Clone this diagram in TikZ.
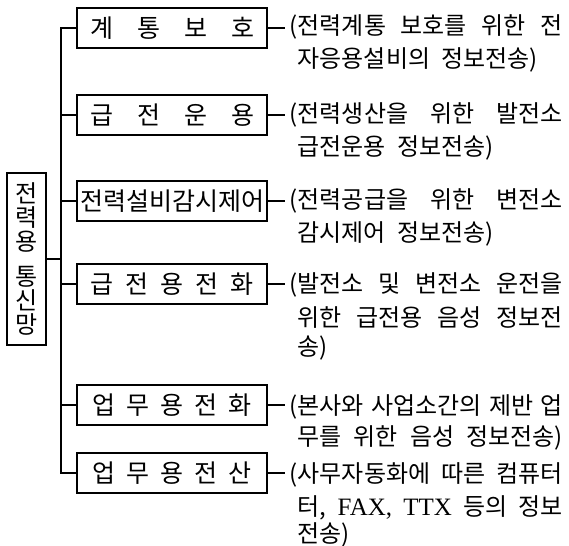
\documentclass[tikz,border=0pt]{standalone}
\usepackage{fontspec}
\setmainfont{Noto Sans CJK KR}
\newfontfamily\latinserif{Liberation Serif}
\newlength{\mywordsp}
\setlength{\mywordsp}{11pt plus 40pt minus 4pt}
\newcommand{\dspace}{\spaceskip=\mywordsp\relax}
\newcommand{\fl}[1]{\makebox[273pt][s]{\dspace #1}}
\newcommand{\cl}[1]{\makebox[265pt][s]{\dspace #1}}
\newcommand{\nl}[1]{\dspace #1}
\begin{document}
\begin{tikzpicture}[x=1pt,y=-1pt,
  line width=1.4pt,
  catbox/.style={draw, minimum width=190pt, minimum height=40pt, inner sep=0pt,
    font=\fontsize{25}{28}\selectfont},
  rootbox/.style={draw, minimum width=39pt, minimum height=172pt, inner sep=0pt,
    align=center, font=\fontsize{24}{24}\selectfont},
  desc/.style={anchor=west, inner sep=0pt, font=\fontsize{24}{26}\selectfont},
  stub/.style={shorten >=4pt}]
\useasboundingbox (0,0) rectangle (569,545);

\node[rootbox] (root) at (26.5,259) {전\\력\\용\\[11pt]통\\신\\망};

\node[catbox] (b1) at (172,28) {계\hspace{24pt}통\hspace{24pt}보\hspace{24pt}호};
\node[catbox] (b2) at (172,115) {급\hspace{24pt}전\hspace{24pt}운\hspace{24pt}용};
\node[catbox] (b3) at (172,201) {전력설비감시제어};
\node[catbox] (b4) at (172,284) {급\hspace{12pt}전\hspace{12pt}용\hspace{12pt}전\hspace{12pt}화};
\node[catbox] (b5) at (172,405) {업\hspace{11pt}무\hspace{11pt}용\hspace{11pt}전\hspace{11pt}화};
\node[catbox] (b6) at (172,473) {업\hspace{11pt}무\hspace{11pt}용\hspace{11pt}전\hspace{11pt}산};

\coordinate (tr) at (61,0);
\draw (b1.west) -- (b1.west -| tr) -- (b6.west -| tr) -- (b6.west);
\draw (b2.west) -- (b2.west -| tr);
\draw (b3.west) -- (b3.west -| tr);
\draw (b4.west) -- (b4.west -| tr);
\draw (b5.west) -- (b5.west -| tr);
\draw (root.east) -- (root.east -| tr);

\node[desc] (d1a) at (289,27) {\fl{(전력계통 보호를 위한 전}};
\node[desc] (d1b) at (297,60) {\nl{자응용설비의 정보전송)}};
\node[desc] (d2a) at (289,115) {\fl{(전력생산을 위한 발전소}};
\node[desc] (d2b) at (297,148) {\nl{급전운용 정보전송)}};
\node[desc] (d3a) at (289,201) {\fl{(전력공급을 위한 변전소}};
\node[desc] (d3b) at (297,234) {\nl{감시제어 정보전송)}};
\node[desc] (d4a) at (289,285) {\fl{(발전소 및 변전소 운전을}};
\node[desc] (d4b) at (297,318) {\cl{위한 급전용 음성 정보전}};
\node[desc] (d4c) at (297,348) {송)};
\node[desc] (d5a) at (289,407) {\fl{(본사와 사업소간의 제반 업}};
\node[desc] (d5b) at (297,438) {\cl{무를 위한 음성 정보전송)}};
\node[desc] (d6a) at (289,475) {\fl{(사무자동화에 따른 컴퓨터}};
\node[desc] (d6b) at (297,508) {\cl{터, {\latinserif\fontsize{25}{26}\selectfont FAX, TTX} 등의 정보}};
\node[desc] (d6c) at (297,535) {전송)};

\draw[stub] (b1.east) -- (b1.east -| d1a.west);
\draw[stub] (b2.east) -- (b2.east -| d2a.west);
\draw[stub] (b3.east) -- (b3.east -| d3a.west);
\draw[stub] (b4.east) -- (b4.east -| d4a.west);
\draw[stub] (b5.east) -- (b5.east -| d5a.west);
\draw[stub] (b6.east) -- (b6.east -| d6a.west);
\end{tikzpicture}
\end{document}
